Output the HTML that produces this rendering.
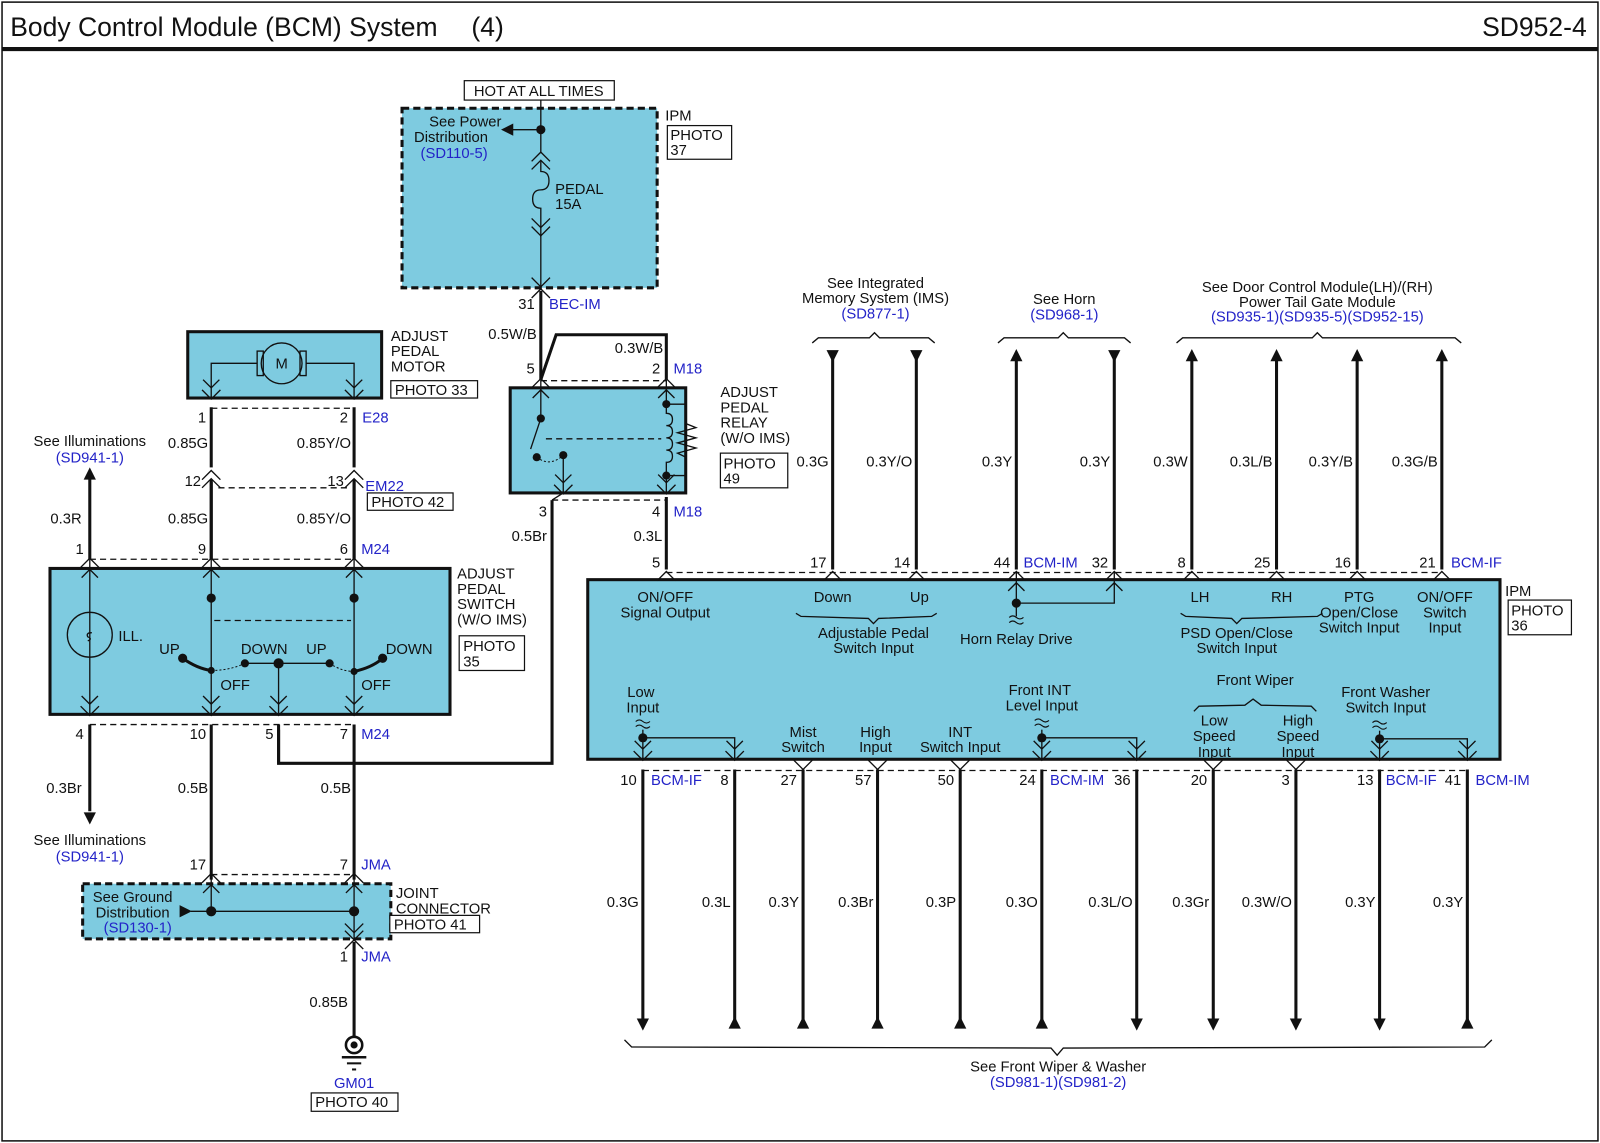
<!DOCTYPE html>
<html><head><meta charset="utf-8"><style>
html,body{margin:0;padding:0;background:#fff}
svg{display:block}
text{font-family:"Liberation Sans",sans-serif;font-size:14.5px;fill:#111}
.b{fill:#2323c8}
.m{text-anchor:middle}.e{text-anchor:end}
.w{stroke:#111;stroke-width:3;fill:none}
.t{stroke:#111;stroke-width:1.3;fill:none}
.d{stroke:#111;stroke-width:1.3;fill:none;stroke-dasharray:6 4}
.box{fill:#7ecbe0;stroke:#111;stroke-width:3}
.dbox{fill:#7ecbe0;stroke:#111;stroke-width:3;stroke-dasharray:7 4}
.pb{fill:#fff;stroke:#111;stroke-width:1.2}
</style></head><body>
<svg width="1600" height="1143" viewBox="0 0 1568 1120" xmlns="http://www.w3.org/2000/svg">
<defs>
<path id="pu" d="M-9,8 L0,-1 L9,8 M-8,18 L0,10 L8,18" stroke="#111" stroke-width="1.3" fill="none"/>
<path id="pd" d="M-9,-8 L0,1 L9,-8 M-8,-18 L0,-10 L8,-18" stroke="#111" stroke-width="1.3" fill="none"/>
<path id="cu" d="M-9,8 L0,-1 L9,8" stroke="#111" stroke-width="1.3" fill="none"/>
<path id="cd" d="M-9,-8 L0,1 L9,-8" stroke="#111" stroke-width="1.3" fill="none"/>
<path id="tu" d="M-6,12 L0,0 L6,12 Z" fill="#111"/>
<path id="td" d="M-6,-12 L0,0 L6,-12 Z" fill="#111"/>
<path id="wv" d="M-7,-3 q3.5,-3 7,0 t7,0 M-7,2 q3.5,-3 7,0 t7,0" stroke="#111" stroke-width="1.1" fill="none"/>
</defs>
<rect x="2" y="2" width="1564" height="1116" fill="none" stroke="#111" stroke-width="1.5"/>
<line x1="2" y1="48" x2="1566" y2="48" stroke="#111" stroke-width="4"/>
<text x="10" y="35" style="font-size:26px">Body Control Module (BCM) System</text>
<text x="462" y="35" style="font-size:26px">(4)</text>
<text x="1555" y="35" class="e" style="font-size:26px">SD952-4</text>

<!-- Fuse box -->
<rect x="455" y="79" width="147" height="19" class="pb"/><text x="528" y="94" class="m">HOT AT ALL TIMES</text>
<rect x="394" y="106" width="250" height="176" class="dbox"/>
<line x1="530" y1="98" x2="530" y2="150" class="t"/>
<circle cx="530" cy="127" r="4.5" fill="#111"/>
<line x1="530" y1="127" x2="500" y2="127" class="t"/><path d="M491,127 L503,121 L503,133Z" fill="#111"/>
<text x="456" y="124" class="m">See Power</text><text x="442" y="139" class="m">Distribution</text><text x="445" y="155" class="m b">(SD110-5)</text>
<use href="#cu" x="530" y="150"/><use href="#cu" x="530" y="158"/>
<path d="M530,158 L530,168 q8,0 8,9 q0,9 -8,9 q-8,0 -8,9 q0,9 8,9 L530,232" class="t"/>
<text x="544" y="190">PEDAL</text><text x="544" y="205">15A</text>
<use href="#cd" x="530" y="222"/><use href="#cd" x="530" y="230"/>
<line x1="530" y1="230" x2="530" y2="282" class="t"/>
<use href="#cd" x="530" y="280"/><use href="#cu" x="530" y="284"/>
<text x="652" y="118">IPM</text><rect x="654" y="123" width="63" height="33" class="pb"/><text x="657" y="137">PHOTO</text><text x="657" y="152">37</text>
<text x="524" y="303" class="e">31</text><text x="538" y="303" class="b">BEC-IM</text>
<line x1="530" y1="285" x2="530" y2="372" class="w"/>
<text x="526" y="332" class="e">0.5W/B</text>
<polyline points="530,372 545,328 653,328 653,372" class="w"/>
<text x="650" y="346" class="e">0.3W/B</text>
<text x="524" y="366" class="e">5</text><text x="647" y="366" class="e">2</text><text x="660" y="366" class="b">M18</text>
<line x1="530" y1="373" x2="653" y2="373" class="d"/>

<!-- Relay -->
<rect x="500" y="380" width="172" height="103" class="box"/>
<use href="#pu" x="530" y="372"/><use href="#pu" x="653" y="372"/>
<line x1="530" y1="372" x2="530" y2="410" class="t"/><circle cx="530" cy="410" r="4" fill="#111"/>
<line x1="530" y1="410" x2="520" y2="440" class="t"/>
<circle cx="526" cy="448" r="4" fill="#111"/><circle cx="552" cy="446" r="4" fill="#111"/>
<path d="M526,448 q13,10 26,-2" stroke="#111" stroke-width="1" stroke-dasharray="2 2" fill="none"/>
<line x1="552" y1="446" x2="552" y2="483" class="t"/>
<line x1="535" y1="430" x2="648" y2="430" class="d"/>
<line x1="653" y1="372" x2="653" y2="396" class="t"/>
<circle cx="653" cy="396" r="4" fill="#111"/><circle cx="653" cy="466" r="4" fill="#111"/>
<path d="M653,396 L653,405 q6,0 6,6 q0,6 -6,6 q6,0 6,6 q0,6 -6,6 q6,0 6,6 q0,6 -6,6 q6,0 6,6 q0,6 -6,6 L653,483" class="t"/>
<polyline points="653,396 672,396 672,415 682,419 664,424 682,429 664,434 682,439 664,444 672,448 672,466 653,466" class="t"/>
<use href="#pd" x="552" y="483"/><use href="#pd" x="653" y="483"/>
<line x1="541" y1="490" x2="653" y2="490" class="d"/>
<text x="706" y="389">ADJUST</text><text x="706" y="404">PEDAL</text><text x="706" y="419">RELAY</text><text x="706" y="434">(W/O IMS)</text>
<rect x="706" y="444" width="66" height="34" class="pb"/><text x="709" y="459">PHOTO</text><text x="709" y="474">49</text>
<text x="536" y="506" class="e">3</text><text x="647" y="506" class="e">4</text><text x="660" y="506" class="b">M18</text>
<polyline points="541,490 541,748 273,748 273,715" class="w"/>
<line x1="552" y1="483" x2="541" y2="490" class="t"/>
<text x="536" y="530" class="e">0.5Br</text>
<line x1="653" y1="487" x2="653" y2="558" class="w"/>
<text x="649" y="530" class="e">0.3L</text>

<!-- Motor -->
<rect x="184" y="325" width="190" height="65" class="box"/>
<circle cx="276" cy="356" r="20" fill="none" stroke="#111" stroke-width="1.3"/><text x="276" y="361" class="m">M</text>
<rect x="252" y="344" width="6" height="24" fill="none" stroke="#111" stroke-width="1.3"/>
<rect x="294" y="344" width="6" height="24" fill="none" stroke="#111" stroke-width="1.3"/>
<polyline points="252,356 207,356 207,390" class="t"/><polyline points="300,356 347,356 347,390" class="t"/>
<use href="#pd" x="207" y="390"/><use href="#pd" x="347" y="390"/>
<line x1="207" y1="400" x2="347" y2="400" class="d"/>
<text x="383" y="334">ADJUST</text><text x="383" y="349">PEDAL</text><text x="383" y="364">MOTOR</text>
<rect x="383" y="373" width="85" height="17" class="pb"/><text x="387" y="387">PHOTO 33</text>
<text x="202" y="414" class="e">1</text><text x="341" y="414" class="e">2</text><text x="355" y="414" class="b">E28</text>
<line x1="207" y1="399" x2="207" y2="548" class="w"/><line x1="347" y1="399" x2="347" y2="548" class="w"/>
<text x="204" y="439" class="e">0.85G</text><text x="344" y="439" class="e">0.85Y/O</text>
<rect x="199" y="458" width="16" height="14" fill="#fff"/><rect x="339" y="458" width="16" height="14" fill="#fff"/>
<use href="#cu" x="207" y="462"/><use href="#cu" x="207" y="470"/><use href="#cu" x="347" y="462"/><use href="#cu" x="347" y="470"/>
<line x1="207" y1="470" x2="207" y2="548" class="w"/><line x1="347" y1="470" x2="347" y2="548" class="w"/>
<line x1="214" y1="478" x2="340" y2="478" class="d"/>
<text x="197" y="476" class="e">12</text><text x="337" y="476" class="e">13</text><text x="358" y="481" class="b">EM22</text>
<rect x="360" y="483" width="84" height="17" class="pb"/><text x="364" y="497">PHOTO 42</text>
<text x="204" y="513" class="e">0.85G</text><text x="344" y="513" class="e">0.85Y/O</text>
<text x="88" y="437" class="m">See Illuminations</text><text x="88" y="453" class="m b">(SD941-1)</text>
<use href="#tu" x="88" y="458"/><line x1="88" y1="466" x2="88" y2="548" class="w"/>
<text x="80" y="513" class="e">0.3R</text>

<!-- Switch -->
<line x1="88" y1="548" x2="347" y2="548" class="d"/>
<text x="82" y="543" class="e">1</text><text x="202" y="543" class="e">9</text><text x="341" y="543" class="e">6</text><text x="354" y="543" class="b">M24</text>
<rect x="49" y="557" width="392" height="143" class="box"/>
<use href="#pu" x="88" y="548"/><use href="#pu" x="207" y="548"/><use href="#pu" x="347" y="548"/>
<line x1="88" y1="548" x2="88" y2="700" class="t"/>
<line x1="207" y1="548" x2="207" y2="700" class="t"/><line x1="347" y1="548" x2="347" y2="700" class="t"/>
<circle cx="88" cy="622" r="22" fill="none" stroke="#111" stroke-width="1.3"/>
<path d="M90,620 q-6,0 -4,4 q5,2 0,4" class="t"/>
<text x="116" y="628">ILL.</text>
<circle cx="207" cy="586" r="4.5" fill="#111"/><circle cx="347" cy="586" r="4.5" fill="#111"/>
<line x1="210" y1="608" x2="344" y2="608" class="d"/>
<circle cx="179" cy="645" r="4.5" fill="#111"/><path d="M179,645 q14,10 28,12" stroke="#111" stroke-width="3" fill="none"/>
<circle cx="240" cy="650" r="4" fill="#111"/><circle cx="273" cy="650" r="5" fill="#111"/><circle cx="323" cy="650" r="4" fill="#111"/>
<line x1="240" y1="650" x2="323" y2="650" class="t"/>
<path d="M207,657 q18,0 33,-7 M323,650 q12,8 24,8" stroke="#111" stroke-width="1" stroke-dasharray="2 2" fill="none"/>
<circle cx="207" cy="657" r="3.5" fill="#111"/><circle cx="347" cy="658" r="3.5" fill="#111"/>
<circle cx="375" cy="645" r="4.5" fill="#111"/><path d="M375,645 q-10,9 -28,13" stroke="#111" stroke-width="3" fill="none"/>
<line x1="273" y1="650" x2="273" y2="700" class="t"/>
<text x="156" y="641">UP</text><text x="236" y="641">DOWN</text><text x="300" y="641">UP</text><text x="378" y="641">DOWN</text>
<text x="216" y="676">OFF</text><text x="354" y="676">OFF</text>
<use href="#pd" x="88" y="700"/><use href="#pd" x="207" y="700"/><use href="#pd" x="273" y="700"/><use href="#pd" x="347" y="700"/>
<line x1="88" y1="710" x2="347" y2="710" class="d"/>
<text x="448" y="567">ADJUST</text><text x="448" y="582">PEDAL</text><text x="448" y="597">SWITCH</text><text x="448" y="612">(W/O IMS)</text>
<rect x="450" y="623" width="64" height="34" class="pb"/><text x="454" y="638">PHOTO</text><text x="454" y="653">35</text>
<text x="82" y="724" class="e">4</text><text x="202" y="724" class="e">10</text><text x="268" y="724" class="e">5</text><text x="341" y="724" class="e">7</text><text x="354" y="724" class="b">M24</text>
<line x1="88" y1="710" x2="88" y2="795" class="w"/><use href="#td" x="88" y="808"/>
<line x1="207" y1="710" x2="207" y2="862" class="w"/><line x1="347" y1="710" x2="347" y2="862" class="w"/>
<line x1="273" y1="710" x2="273" y2="748" class="w"/>
<text x="80" y="777" class="e">0.3Br</text><text x="204" y="777" class="e">0.5B</text><text x="344" y="777" class="e">0.5B</text>
<text x="88" y="828" class="m">See Illuminations</text><text x="88" y="844" class="m b">(SD941-1)</text>

<!-- Joint connector -->
<text x="202" y="852" class="e">17</text><text x="341" y="852" class="e">7</text><text x="354" y="852" class="b">JMA</text>
<line x1="207" y1="857" x2="347" y2="857" class="d"/>
<rect x="81" y="866" width="302" height="54" class="dbox"/>
<use href="#pu" x="207" y="857"/><use href="#pu" x="347" y="857"/>
<line x1="207" y1="857" x2="207" y2="893" class="t"/><line x1="347" y1="857" x2="347" y2="920" class="t"/>
<line x1="187" y1="893" x2="347" y2="893" class="t"/><path d="M176,887 L188,893 L176,899Z" fill="#111"/>
<circle cx="207" cy="893" r="5" fill="#111"/><circle cx="347" cy="893" r="5" fill="#111"/>
<text x="130" y="884" class="m">See Ground</text><text x="130" y="899" class="m">Distribution</text><text x="135" y="914" class="m b">(SD130-1)</text>
<use href="#cd" x="347" y="920"/><use href="#cd" x="347" y="913"/><use href="#cu" x="347" y="922"/>
<text x="388" y="880">JOINT</text><text x="388" y="895">CONNECTOR</text>
<rect x="382" y="897" width="88" height="17" class="pb"/><text x="386" y="911">PHOTO 41</text>
<text x="341" y="942" class="e">1</text><text x="354" y="942" class="b">JMA</text>
<line x1="347" y1="923" x2="347" y2="1016" class="w"/>
<text x="341" y="987" class="e">0.85B</text>
<circle cx="347" cy="1024" r="8" fill="none" stroke="#111" stroke-width="2.5"/><circle cx="347" cy="1024" r="3.5" fill="#111"/>
<line x1="335" y1="1036" x2="359" y2="1036" stroke="#111" stroke-width="2.5"/>
<line x1="340" y1="1042" x2="354" y2="1042" stroke="#111" stroke-width="2"/>
<line x1="345" y1="1048" x2="349" y2="1048" stroke="#111" stroke-width="2"/>
<text x="347" y="1066" class="m b">GM01</text>
<rect x="305" y="1071" width="85" height="18" class="pb"/><text x="309" y="1085">PHOTO 40</text>

<!-- Top references -->
<text x="858" y="282" class="m">See Integrated</text><text x="858" y="297" class="m">Memory System (IMS)</text><text x="858" y="312" class="m b">(SD877-1)</text>
<path d="M796,336 l6,-5 L852,331 l5,-5 l5,5 L910,331 l6,5" class="t"/>
<text x="1043" y="298" class="m">See Horn</text><text x="1043" y="313" class="m b">(SD968-1)</text>
<path d="M978,336 l6,-5 L1037,331 l5,-5 l5,5 L1102,331 l6,5" class="t"/>
<text x="1291" y="286" class="m">See Door Control Module(LH)/(RH)</text><text x="1291" y="301" class="m">Power Tail Gate Module</text><text x="1291" y="315" class="m b">(SD935-1)(SD935-5)(SD952-15)</text>
<path d="M1153,336 l6,-5 L1286,331 l5,-5 l5,5 L1426,331 l6,5" class="t"/>
<use href="#td" x="816" y="355"/><use href="#td" x="898" y="355"/><use href="#tu" x="996" y="342"/><use href="#td" x="1092" y="355"/>
<use href="#tu" x="1168" y="342"/><use href="#tu" x="1251" y="342"/><use href="#tu" x="1330" y="342"/><use href="#tu" x="1413" y="342"/>
<g class="w">
<line x1="816" y1="345" x2="816" y2="558"/><line x1="898" y1="345" x2="898" y2="558"/><line x1="996" y1="350" x2="996" y2="558"/><line x1="1092" y1="345" x2="1092" y2="558"/>
<line x1="1168" y1="350" x2="1168" y2="558"/><line x1="1251" y1="350" x2="1251" y2="558"/><line x1="1330" y1="350" x2="1330" y2="558"/><line x1="1413" y1="350" x2="1413" y2="558"/>
</g>
<text x="812" y="457" class="e">0.3G</text><text x="894" y="457" class="e">0.3Y/O</text><text x="992" y="457" class="e">0.3Y</text><text x="1088" y="457" class="e">0.3Y</text>
<text x="1164" y="457" class="e">0.3W</text><text x="1247" y="457" class="e">0.3L/B</text><text x="1326" y="457" class="e">0.3Y/B</text><text x="1409" y="457" class="e">0.3G/B</text>

<!-- IPM main -->
<line x1="653" y1="561" x2="1413" y2="561" class="d"/>
<text x="647" y="556" class="e">5</text><text x="810" y="556" class="e">17</text><text x="892" y="556" class="e">14</text><text x="990" y="556" class="e">44</text><text x="1003" y="556" class="b">BCM-IM</text>
<text x="1086" y="556" class="e">32</text><text x="1162" y="556" class="e">8</text><text x="1245" y="556" class="e">25</text><text x="1324" y="556" class="e">16</text><text x="1407" y="556" class="e">21</text><text x="1422" y="556" class="b">BCM-IF</text>
<rect x="576" y="568" width="894" height="176" class="box"/>
<use href="#cu" x="653" y="561"/><use href="#cu" x="816" y="561"/><use href="#cu" x="898" y="561"/><use href="#pu" x="996" y="561"/><use href="#pu" x="1092" y="561"/>
<use href="#cu" x="1168" y="561"/><use href="#cu" x="1251" y="561"/><use href="#cu" x="1330" y="561"/><use href="#cu" x="1413" y="561"/>
<text x="652" y="590" class="m">ON/OFF</text><text x="652" y="605" class="m">Signal Output</text>
<text x="816" y="590" class="m">Down</text><text x="901" y="590" class="m">Up</text>
<path d="M780,601 l5,3 L851,606 l5,5 l5,-5 L913,604 l5,-3" class="t"/>
<text x="856" y="625" class="m">Adjustable Pedal</text><text x="856" y="640" class="m">Switch Input</text>
<line x1="996" y1="561" x2="996" y2="604" class="t"/><circle cx="996" cy="591" r="4.5" fill="#111"/>
<polyline points="996,591 1092,591 1092,561" class="t"/>
<use href="#wv" x="996" y="608"/>
<text x="996" y="631" class="m">Horn Relay Drive</text>
<text x="1176" y="590" class="m">LH</text><text x="1256" y="590" class="m">RH</text>
<path d="M1157,601 l5,3 L1207,606 l5,5 l5,-5 L1291,604 l5,-3" class="t"/>
<text x="1212" y="625" class="m">PSD Open/Close</text><text x="1212" y="640" class="m">Switch Input</text>
<text x="1332" y="590" class="m">PTG</text><text x="1332" y="605" class="m">Open/Close</text><text x="1332" y="620" class="m">Switch Input</text>
<text x="1416" y="590" class="m">ON/OFF</text><text x="1416" y="605" class="m">Switch</text><text x="1416" y="620" class="m">Input</text>
<text x="1475" y="584">IPM</text><rect x="1478" y="588" width="62" height="34" class="pb"/><text x="1481" y="603">PHOTO</text><text x="1481" y="618">36</text>
<!-- lower inside -->
<text x="628" y="683" class="m">Low</text><text x="630" y="698" class="m">Input</text><use href="#wv" x="630" y="710"/>
<line x1="630" y1="715" x2="630" y2="744" class="t"/><circle cx="630" cy="723" r="4.5" fill="#111"/><polyline points="630,723 720,723 720,744" class="t"/>
<text x="787" y="722" class="m">Mist</text><text x="787" y="737" class="m">Switch</text>
<text x="858" y="722" class="m">High</text><text x="858" y="737" class="m">Input</text>
<text x="941" y="722" class="m">INT</text><text x="941" y="737" class="m">Switch Input</text>
<text x="1019" y="681" class="m">Front INT</text><text x="1021" y="696" class="m">Level Input</text><use href="#wv" x="1021" y="709"/>
<line x1="1021" y1="715" x2="1021" y2="744" class="t"/><circle cx="1021" cy="723" r="4.5" fill="#111"/><polyline points="1021,723 1114,723 1114,744" class="t"/>
<text x="1230" y="671" class="m">Front Wiper</text>
<path d="M1170,697 l5,-5 L1220,691 l8,-6 l8,6 L1285,692 l5,5" class="t"/>
<text x="1190" y="711" class="m">Low</text><text x="1190" y="726" class="m">Speed</text><text x="1190" y="742" class="m">Input</text>
<text x="1272" y="711" class="m">High</text><text x="1272" y="726" class="m">Speed</text><text x="1272" y="742" class="m">Input</text>
<text x="1358" y="683" class="m">Front Washer</text><text x="1358" y="698" class="m">Switch Input</text><use href="#wv" x="1352" y="711"/>
<line x1="1352" y1="716" x2="1352" y2="744" class="t"/><circle cx="1352" cy="724" r="4.5" fill="#111"/><polyline points="1352,724 1438,724 1438,744" class="t"/>
<!-- bottom pins -->
<g>
<use href="#pd" x="630" y="744"/><use href="#pd" x="720" y="744"/><use href="#cd" x="787" y="753"/><use href="#cd" x="860" y="753"/><use href="#cd" x="941" y="753"/>
<use href="#pd" x="1021" y="744"/><use href="#pd" x="1114" y="744"/><use href="#cd" x="1189" y="753"/><use href="#cd" x="1270" y="753"/><use href="#pd" x="1352" y="744"/><use href="#pd" x="1438" y="744"/>
</g>
<line x1="630" y1="755" x2="1438" y2="755" class="d"/>
<text x="624" y="769" class="e">10</text><text x="638" y="769" class="b">BCM-IF</text><text x="714" y="769" class="e">8</text><text x="781" y="769" class="e">27</text><text x="854" y="769" class="e">57</text>
<text x="935" y="769" class="e">50</text><text x="1015" y="769" class="e">24</text><text x="1029" y="769" class="b">BCM-IM</text><text x="1108" y="769" class="e">36</text>
<text x="1183" y="769" class="e">20</text><text x="1264" y="769" class="e">3</text><text x="1346" y="769" class="e">13</text><text x="1358" y="769" class="b">BCM-IF</text><text x="1432" y="769" class="e">41</text><text x="1446" y="769" class="b">BCM-IM</text>
<g class="w">
<line x1="630" y1="754" x2="630" y2="998"/><line x1="720" y1="754" x2="720" y2="1000"/><line x1="787" y1="754" x2="787" y2="1000"/><line x1="860" y1="754" x2="860" y2="1000"/>
<line x1="941" y1="754" x2="941" y2="1000"/><line x1="1021" y1="754" x2="1021" y2="1000"/><line x1="1114" y1="754" x2="1114" y2="998"/><line x1="1189" y1="754" x2="1189" y2="998"/>
<line x1="1270" y1="754" x2="1270" y2="998"/><line x1="1352" y1="754" x2="1352" y2="998"/><line x1="1438" y1="754" x2="1438" y2="1000"/>
</g>
<use href="#td" x="630" y="1010"/><use href="#tu" x="720" y="996"/><use href="#tu" x="787" y="996"/><use href="#tu" x="860" y="996"/><use href="#tu" x="941" y="996"/>
<use href="#tu" x="1021" y="996"/><use href="#td" x="1114" y="1010"/><use href="#td" x="1189" y="1010"/><use href="#td" x="1270" y="1010"/><use href="#td" x="1352" y="1010"/><use href="#tu" x="1438" y="996"/>
<text x="626" y="889" class="e">0.3G</text><text x="716" y="889" class="e">0.3L</text><text x="783" y="889" class="e">0.3Y</text><text x="856" y="889" class="e">0.3Br</text>
<text x="937" y="889" class="e">0.3P</text><text x="1017" y="889" class="e">0.3O</text><text x="1110" y="889" class="e">0.3L/O</text><text x="1185" y="889" class="e">0.3Gr</text>
<text x="1266" y="889" class="e">0.3W/O</text><text x="1348" y="889" class="e">0.3Y</text><text x="1434" y="889" class="e">0.3Y</text>
<path d="M612,1019 l7,7 L1030,1027 l6,7 l6,-7 L1455,1026 l7,-7" class="t"/>
<text x="1037" y="1050" class="m">See Front Wiper &amp; Washer</text><text x="1037" y="1065" class="m b">(SD981-1)(SD981-2)</text>
</svg>
</body></html>
